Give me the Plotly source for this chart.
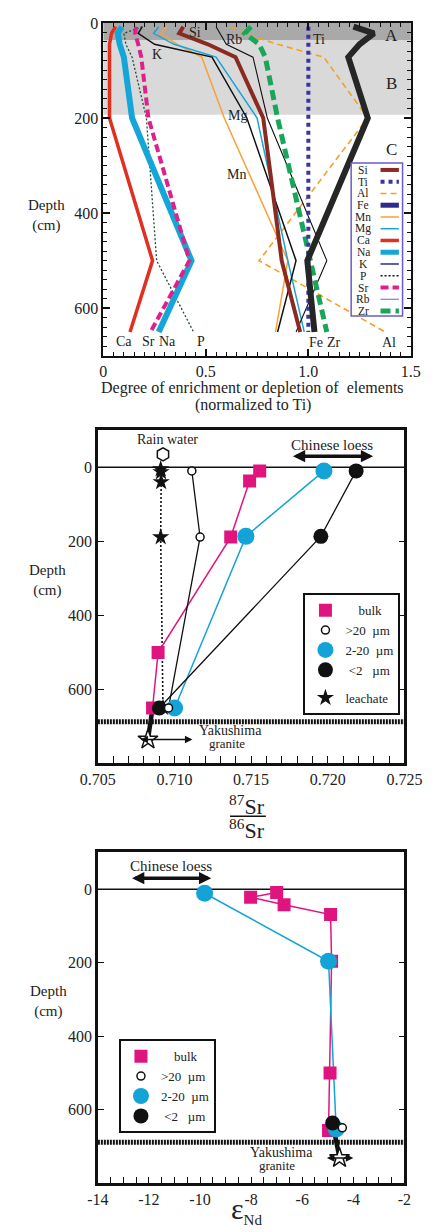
import plotly.graph_objects as go

W, H = 438, 1232
SERIF = "Liberation Serif, Times New Roman, DejaVu Serif, serif"
INK = "#1a1a1a"

# ---------------- Panel 1: element profiles (normalised to Ti) ----------------
profile_depth = [8, 22, 45, 72, 200, 500, 650]
si = [0.39, 0.37, 0.51, 0.645, 0.78, 0.87, 0.96]
ti = [1.0, 1.0, 1.0, 1.0, 1.0, 1.0, 1.0]
al = [0.62, 0.69, 0.85, 1.075, 1.29, 0.76, 1.375]
fe = [1.22, 1.32, 1.25, 1.195, 1.29, 0.995, 1.03]
mn = [0.31, 0.28, 0.36, 0.48, 0.59, 0.90, 0.84]
mg = [0.27, 0.245, 0.345, 0.55, 0.75, 0.90, 0.98]
ca = [0.06, 0.04, 0.03, 0.03, 0.03, 0.24, 0.13]
na = [0.09, 0.07, 0.08, 0.10, 0.14, 0.43, 0.27]
k = [0.19, 0.17, 0.25, 0.53, 0.70, 0.94, 0.85]
p = [0.19, 0.10, 0.11, 0.14, 0.21, 0.26, 0.44]
sr = [0.16, 0.155, 0.17, 0.185, 0.22, 0.42, 0.23]
rb = [0.55, 0.57, 0.60, 0.73, 0.80, 1.09, 0.94]
zr = [0.72, 0.69, 0.76, 0.79, 0.85, 1.01, 1.09]

horizon_a = [0, 37]
horizon_b = [37, 193]

# ---------------- Panel 2: 87Sr/86Sr ----------------
sr_bulk_depth = [10, 37, 189, 501, 651]
sr_bulk = [0.71556, 0.71490, 0.71367, 0.70893, 0.70857]
sr_coarse_depth = [10, 189, 651]
sr_coarse = [0.71113, 0.71167, 0.70961]
sr_silt_depth = [10, 187, 651]
sr_silt = [0.71975, 0.71466, 0.71001]
sr_clay_depth = [10, 187, 651]
sr_clay = [0.72185, 0.71955, 0.70901]
sr_leach_depth = [5, 13, 40, 189, 650]
sr_leach = [0.70910, 0.70912, 0.70913, 0.70910, 0.70925]
sr_rain_depth = [-35]
sr_rain = [0.70925]
sr_granite_depth = [736]
sr_granite = [0.70827]
sr_granite_range = [0.70768, 0.71117]
sr_loess_range = [0.71763, 0.72296]

# ---------------- Panel 3: eps Nd ----------------
nd_bulk_depth = [9, 22, 42, 69, 196, 500, 656]
nd_bulk = [-7.00, -8.02, -6.71, -4.89, -4.85, -4.91, -4.97]
nd_silt_depth = [11, 196, 652]
nd_silt = [-9.82, -4.97, -4.67]
nd_clay_depth = [636]
nd_clay = [-4.81]
nd_coarse_depth = [649]
nd_coarse = [-4.43]
nd_granite_depth = [731]
nd_granite = [-4.54]
nd_granite_range = [-5.09, -4.00]
nd_loess_range = [-12.72, -9.56]

granite_top = 688  # top of the Yakushima granite
depth_ticks = [0, 200, 400, 600]
p1_xticks = [0, 0.5, 1.0, 1.5]
p1_xlabels = ["0", "0.5", "1.0", "1.5"]
p3_xticks = [-14, -12, -10, -8, -6, -4, -2]
p3_xlabels = ["-14", "-12", "-10", "-8", "-6", "-4", "-2"]


def px(x):
    return x / W


def py(y):
    return 1 - y / H


fig = go.Figure()

# element line styles: (label, values, plot colour, width, dash, legend colour)
element_styles = [
    ("Si", si, "#8b2a22", 4, "solid", "#8b2a22"),
    ("Ti", ti, "#3b33a8", 4, "dot", "#3b33a8"),
    ("Al", al, "#f5a020", 1.6, "6px,4px", "#f5a020"),
    ("Fe", fe, "#262626", 6, "solid", "#2e2a8a"),
    ("Mn", mn, "#f7a13c", 1.5, "solid", "#f7a13c"),
    ("Mg", mg, "#1ba3d6", 1.5, "solid", "#1ba3d6"),
    ("Ca", ca, "#e03020", 3.5, "solid", "#e03020"),
    ("Na", na, "#15a6d9", 6, "solid", "#15a6d9"),
    ("K", k, "#111111", 1.5, "solid", "#2e2a8a"),
    ("P", p, "#1e4d3b", 1.3, "2px,2px", "#111111"),
    ("Sr", sr, "#e0208a", 4, "8px,4px", "#e0208a"),
    ("Rb", rb, "#111111", 1.1, "solid", "#7b72c2"),
    ("Zr", zr, "#19a55a", 5, "10px,5px", "#19a55a"),
]
draw_order = ["Al", "Mn", "Mg", "K", "Rb", "P", "Ca", "Na", "Sr", "Si", "Zr", "Ti", "Fe"]
style_by_name = {s[0]: s for s in element_styles}
for name in draw_order:
    _, vals, col, wd, dash, _ = style_by_name[name]
    fig.add_trace(go.Scatter(
        x=vals, y=profile_depth, mode="lines", xaxis="x", yaxis="y",
        line=dict(color=col, width=wd, dash=dash), showlegend=False, hoverinfo="skip"))

# ---- panel 2 traces ----
BULK = "#e0147f"
SILT = "#14a3d6"
BLACK = "#111111"

fig.add_trace(go.Scatter(x=sr_leach, y=sr_leach_depth, mode="lines", xaxis="x2", yaxis="y2",
                         line=dict(color=BLACK, width=1.6, dash="2px,2px"), showlegend=False))
fig.add_trace(go.Scatter(x=[sr_granite[0], sr_bulk[-1]], y=[sr_granite_depth[0], sr_bulk_depth[-1]],
                         mode="lines", xaxis="x2", yaxis="y2",
                         line=dict(color=BLACK, width=4.5), showlegend=False))
fig.add_trace(go.Scatter(x=sr_bulk, y=sr_bulk_depth, mode="lines", xaxis="x2", yaxis="y2",
                         line=dict(color=BULK, width=1.5), showlegend=False))
fig.add_trace(go.Scatter(x=sr_silt, y=sr_silt_depth, mode="lines", xaxis="x2", yaxis="y2",
                         line=dict(color=SILT, width=1.5), showlegend=False))
fig.add_trace(go.Scatter(x=sr_clay, y=sr_clay_depth, mode="lines", xaxis="x2", yaxis="y2",
                         line=dict(color=BLACK, width=1.3), showlegend=False))
fig.add_trace(go.Scatter(x=sr_coarse, y=sr_coarse_depth, mode="lines", xaxis="x2", yaxis="y2",
                         line=dict(color=BLACK, width=1.3), showlegend=False))

fig.add_trace(go.Scatter(x=sr_leach, y=sr_leach_depth, mode="markers", xaxis="x2", yaxis="y2",
                         marker=dict(symbol="star", size=13, color=BLACK),
                         name="leachate", legend="legend", legendgroup="leach", legendrank=5))
fig.add_trace(go.Scatter(x=sr_bulk, y=sr_bulk_depth, mode="markers", xaxis="x2", yaxis="y2",
                         marker=dict(symbol="square", size=13, color=BULK),
                         name="\u00a0\u00a0\u00a0\u00a0bulk", legend="legend", legendgroup="frac", legendrank=1))
fig.add_trace(go.Scatter(x=sr_silt, y=sr_silt_depth, mode="markers", xaxis="x2", yaxis="y2",
                         marker=dict(symbol="circle", size=17, color=SILT),
                         name="2-20\u00a0\u00a0µm", legend="legend", legendgroup="frac", legendrank=3))
fig.add_trace(go.Scatter(x=sr_clay, y=sr_clay_depth, mode="markers", xaxis="x2", yaxis="y2",
                         marker=dict(symbol="circle", size=15, color=BLACK),
                         name="\u00a0&lt;2\u00a0\u00a0\u00a0µm", legend="legend", legendgroup="frac", legendrank=4))
fig.add_trace(go.Scatter(x=sr_coarse, y=sr_coarse_depth, mode="markers", xaxis="x2", yaxis="y2",
                         marker=dict(symbol="circle", size=8, color="white", line=dict(color=BLACK, width=1.5)),
                         name="&gt;20\u00a0\u00a0µm", legend="legend", legendgroup="frac", legendrank=2))
fig.add_trace(go.Scatter(x=sr_rain, y=sr_rain_depth, mode="markers", xaxis="x2", yaxis="y2",
                         marker=dict(symbol="hexagon", size=13, color="white", line=dict(color=BLACK, width=1.5)),
                         showlegend=False))
fig.add_trace(go.Scatter(x=sr_granite, y=sr_granite_depth, mode="markers", xaxis="x2", yaxis="y2",
                         marker=dict(symbol="star", size=15, color="white", line=dict(color=BLACK, width=1.5)),
                         showlegend=False))

# ---- panel 3 traces ----
fig.add_trace(go.Scatter(x=[nd_clay[0], nd_granite[0]], y=[nd_clay_depth[0], nd_granite_depth[0]],
                         mode="lines", xaxis="x3", yaxis="y3",
                         line=dict(color=BLACK, width=4.5), showlegend=False))
fig.add_trace(go.Scatter(x=nd_bulk, y=nd_bulk_depth, mode="lines", xaxis="x3", yaxis="y3",
                         line=dict(color=BULK, width=1.5), showlegend=False))
fig.add_trace(go.Scatter(x=nd_silt, y=nd_silt_depth, mode="lines", xaxis="x3", yaxis="y3",
                         line=dict(color=SILT, width=1.5), showlegend=False))
fig.add_trace(go.Scatter(x=nd_bulk, y=nd_bulk_depth, mode="markers", xaxis="x3", yaxis="y3",
                         marker=dict(symbol="square", size=13, color=BULK),
                         name="\u00a0\u00a0\u00a0\u00a0bulk", legend="legend2", legendrank=1))
fig.add_trace(go.Scatter(x=nd_silt, y=nd_silt_depth, mode="markers", xaxis="x3", yaxis="y3",
                         marker=dict(symbol="circle", size=17, color=SILT),
                         name="2-20\u00a0\u00a0µm", legend="legend2", legendrank=3))
fig.add_trace(go.Scatter(x=nd_clay, y=nd_clay_depth, mode="markers", xaxis="x3", yaxis="y3",
                         marker=dict(symbol="circle", size=15, color=BLACK),
                         name="\u00a0&lt;2\u00a0\u00a0\u00a0µm", legend="legend2", legendrank=4))
fig.add_trace(go.Scatter(x=nd_coarse, y=nd_coarse_depth, mode="markers", xaxis="x3", yaxis="y3",
                         marker=dict(symbol="circle", size=8, color="white", line=dict(color=BLACK, width=1.5)),
                         name="&gt;20\u00a0\u00a0µm", legend="legend2", legendrank=2))
fig.add_trace(go.Scatter(x=nd_granite, y=nd_granite_depth, mode="markers", xaxis="x3", yaxis="y3",
                         marker=dict(symbol="star", size=15, color="white", line=dict(color=BLACK, width=1.5)),
                         showlegend=False))

# ---------------- axes ----------------
tickfont = dict(family=SERIF, size=16, color="#222")


def frame(lw):
    return dict(showline=True, linewidth=lw, linecolor=BLACK, showgrid=False,
                zeroline=False, tickfont=tickfont, tickcolor=BLACK, fixedrange=True)


layout_axes = dict(
    xaxis=dict(domain=[px(93), px(428)], range=[0, 1.5], anchor="y",
               tickmode="array", tickvals=p1_xticks, ticktext=p1_xlabels,
               ticks="inside", ticklen=7, tickwidth=1.5, mirror="ticks",
               minor=dict(tickmode="linear", tick0=0, dtick=0.05, ticks="inside", ticklen=4, tickwidth=1.2),
               **frame(2)),
    yaxis=dict(domain=[py(350), py(15)], range=[700, 0], anchor="x",
               tickmode="array", tickvals=depth_ticks,
               ticks="inside", ticklen=7, tickwidth=1.5, mirror="ticks",
               minor=dict(tickmode="linear", tick0=0, dtick=20, ticks="inside", ticklen=4, tickwidth=1.2),
               **frame(2)),
    xaxis2=dict(domain=[px(87), px(421)], range=[0.705, 0.725], anchor="y2",
                tickmode="linear", tick0=0.705, dtick=0.005, tickformat=".3f",
                ticks="inside", ticklen=7, tickwidth=1.3, mirror=True,
                minor=dict(tickmode="linear", tick0=0.705, dtick=0.001, ticks="inside", ticklen=7, tickwidth=1.2),
                **frame(2.5)),
    yaxis2=dict(domain=[py(760), py(425)], range=[800, -100], anchor="x2",
                tickmode="array", tickvals=depth_ticks,
                ticks="inside", ticklen=6, tickwidth=1.3, mirror="ticks",
                **frame(2.5)),
    xaxis3=dict(domain=[px(87), px(421)], range=[-14, -2], anchor="y3",
                tickmode="array", tickvals=p3_xticks, ticktext=p3_xlabels,
                ticks="inside", ticklen=7, tickwidth=1.3, mirror=True,
                minor=dict(tickmode="linear", tick0=-14, dtick=0.5, ticks="inside", ticklen=7, tickwidth=1.2),
                **frame(2.5)),
    yaxis3=dict(domain=[py(1183), py(850)], range=[800, -100], anchor="x3",
                tickmode="array", tickvals=depth_ticks,
                ticks="inside", ticklen=6, tickwidth=1.3, mirror="ticks",
                **frame(2.5)),
)

# ---------------- shapes ----------------
shapes = [
    dict(type="rect", xref="x domain", yref="y", x0=0, x1=1, y0=horizon_a[0], y1=horizon_a[1],
         fillcolor="#a9a9a9", line=dict(width=0), layer="below"),
    dict(type="rect", xref="x domain", yref="y", x0=0, x1=1, y0=horizon_b[0], y1=horizon_b[1],
         fillcolor="#d9d9d9", line=dict(width=0), layer="below"),
    # surface line and granite contact
    dict(type="line", xref="x2 domain", yref="y2", x0=0, x1=1, y0=0, y1=0, line=dict(color=BLACK, width=1.5), layer="below"),
    dict(type="line", xref="x3 domain", yref="y3", x0=0, x1=1, y0=0, y1=0, line=dict(color=BLACK, width=1.5), layer="below"),
    dict(type="line", xref="x2 domain", yref="y2", x0=0, x1=1, y0=granite_top, y1=granite_top,
         line=dict(color=BLACK, width=5, dash="2px,1px"), layer="below"),
    dict(type="line", xref="x3 domain", yref="y3", x0=0, x1=1, y0=granite_top, y1=granite_top,
         line=dict(color=BLACK, width=5, dash="2px,1px"), layer="below"),
    # 87Sr/86Sr fraction bar
    dict(type="line", xref="paper", yref="paper", x0=px(231), x1=px(270), y0=py(813.5), y1=py(813.5),
         line=dict(color=BLACK, width=1.5)),
    # panel 1 legend box
    dict(type="rect", xref="paper", yref="paper", x0=px(363), x1=px(419), y0=py(310), y1=py(156),
         fillcolor="white", line=dict(color="#6a5cc0", width=1.5), layer="above"),
]

annotations = []


def note(text, x, y, size=14, xref="paper", yref="paper", **kw):
    annotations.append(dict(text=text, x=x, y=y, xref=xref, yref=yref, showarrow=False,
                            font=dict(family=SERIF, size=size, color="#222"),
                            xanchor=kw.pop("xanchor", "center"), yanchor=kw.pop("yanchor", "middle"), **kw))


# panel 1 legend rows
n_el = len(element_styles)
for i, (name, _, _, wd, dash, lcol) in enumerate(element_styles):
    yy = 163 + i * (305 - 163) / (n_el - 1)
    note(name, px(376), py(yy), size=11.5)
    shapes.append(dict(type="line", xref="paper", yref="paper", x0=px(395), x1=px(415), y0=py(yy), y1=py(yy),
                       line=dict(color=lcol, width=min(wd, 5), dash=dash), layer="above"))

# panel 1 in-plot labels
for t, xv, dv in [("Si", 0.448, 21), ("Rb", 0.636, 35), ("Ti", 1.05, 35), ("K", 0.264, 67),
                  ("Mg", 0.654, 194), ("Mn", 0.649, 318),
                  ("Ca", 0.099, 670), ("Sr", 0.219, 670), ("Na", 0.313, 670), ("P", 0.475, 670),
                  ("Fe", 1.039, 672), ("Zr", 1.124, 672), ("Al", 1.393, 672)]:
    note(t, xv, dv, size=14, xref="x", yref="y")
for t, dv in [("A", 27), ("B", 127), ("C", 266)]:
    note(t, 1.406, dv, size=17, xref="x", yref="y")

note("Depth<br>(cm)", px(31), py(209), size=15)
note("Degree of enrichment or depletion of\u00a0 elements", px(256), py(382), size=16)
note("(normalized to Ti)", px(256), py(400), size=16)

# panel 2 labels
note("Rain water", 0.70955, -75, size=14, xref="x2", yref="y2")
note("Chinese loess", 0.72027, -59, size=15, xref="x2", yref="y2")
note("Yakushima", 0.71368, 713, size=14, xref="x2", yref="y2")
note("granite", 0.71344, 748, size=13, xref="x2", yref="y2")
note("Depth<br>(cm)", px(32), py(576), size=15)
note("<sup>87</sup>Sr", px(250), py(802), size=22)
note("<sup>86</sup>Sr", px(250), py(826), size=22)

# panel 3 labels
note("Chinese loess", -11.13, -63, size=15, xref="x3", yref="y3")
note("Yakushima", -6.81, 716, size=14, xref="x3", yref="y3")
note("granite", -6.99, 751, size=13, xref="x3", yref="y3")
note("Depth<br>(cm)", px(33), py(1000), size=15)
note("ε<sub><span style='font-size:15px'>Nd</span></sub>", px(249), py(1210), size=30)


def double_arrow(rng, d, xa, ya, width):
    annotations.append(dict(text="", x=rng[1], y=d, ax=rng[0], ay=d, xref=xa, yref=ya, axref=xa, ayref=ya,
                            showarrow=True, arrowhead=2, arrowside="end+start", arrowsize=1.0 if width < 2 else 0.7,
                            arrowwidth=width, arrowcolor=BLACK))


double_arrow(sr_loess_range, -30, "x2", "y2", 3.5)
double_arrow(sr_granite_range, sr_granite_depth[0], "x2", "y2", 1.5)
double_arrow(nd_loess_range, -30, "x3", "y3", 3.5)
double_arrow(nd_granite_range, nd_granite_depth[0], "x3", "y3", 1.5)

legend_style = dict(bgcolor="white", bordercolor=BLACK, borderwidth=2,
                    font=dict(family=SERIF, size=13, color="#222"),
                    xanchor="left", yanchor="top", itemclick=False, itemdoubleclick=False)

fig.update_layout(
    width=W, height=H, margin=dict(l=0, r=0, t=0, b=0),
    paper_bgcolor="white", plot_bgcolor="white",
    font=dict(family=SERIF, color="#222"),
    shapes=shapes, annotations=annotations,
    legend=dict(x=px(311), y=py(589), tracegroupgap=8, traceorder="grouped", **legend_style),
    legend2=dict(x=px(110), y=py(1038), **legend_style),
    showlegend=True,
    **layout_axes,
)

fig.write_html("out.html")
